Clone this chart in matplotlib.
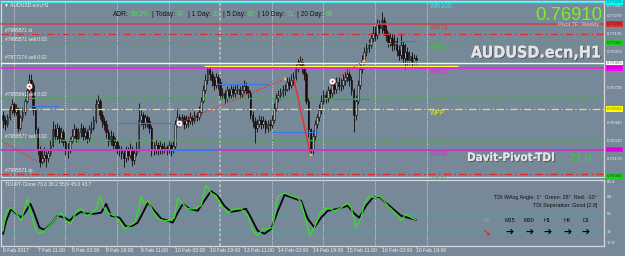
import matplotlib
matplotlib.use("Agg")
import numpy as np
import matplotlib.pyplot as plt
from matplotlib.transforms import blended_transform_factory
import matplotlib.patheffects as pe

plt.rcParams['font.family'] = ['Liberation Sans', 'DejaVu Sans']

W, H = 625, 256
BG = '#778899'

# AUDUSD.ecn H1 bars, 6 Feb 2017 19:00 .. 16 Feb 2017 19:00
first_open = 0.7651
close = [.7647, .7644, .7649, .7655, .7659, .7653, .7656, .7641, .7649, .7653,
         .7662, .7670, .7678, .7674, .7655, .7640, .7624, .7615, .7618, .7620,
         .7618, .7622, .7628, .7640, .7635, .7641, .7633, .7638, .7630, .7624,
         .7625, .7631, .7635, .7640, .7633, .7638, .7641, .7635, .7638, .7633,
         .7640, .7641, .7647, .7659, .7662, .7651, .7646, .7644, .7638, .7631,
         .7635, .7628, .7630, .7625, .7624, .7622, .7618, .7624, .7620, .7625,
         .7616, .7622, .7625, .7647, .7651, .7644, .7649, .7646, .7641, .7624,
         .7625, .7628, .7624, .7627, .7625, .7626, .7624, .7628, .7625, .7627,
         .7644, .7649, .7646, .7649, .7644, .7647, .7646, .7649, .7647, .7651,
         .7649, .7653, .7662, .7670, .7678, .7686, .7682, .7678, .7674, .7680,
         .7676, .7666, .7668, .7664, .7670, .7666, .7671, .7668, .7670, .7671,
         .7667, .7670, .7673, .7670, .7668, .7651, .7646, .7641, .7644, .7647,
         .7644, .7646, .7641, .7644, .7643, .7647, .7656, .7664, .7666, .7668,
         .7670, .7671, .7676, .7674, .7678, .7680, .7686, .7690, .7692, .7687,
         .7682, .7662, .7640, .7624, .7635, .7644, .7649, .7655, .7662, .7666,
         .7664, .7670, .7668, .7674, .7671, .7676, .7673, .7674, .7678, .7680,
         .7682, .7678, .7670, .7651, .7662, .7674, .7686, .7693, .7699, .7702,
         .7705, .7710, .7714, .7712, .7721, .7718, .7724, .7716, .7712, .7707,
         .7710, .7705, .7708, .7701, .7697, .7705, .7695, .7699, .7693, .7696,
         .7692, .7695, .7693]
high = [.7654, .7650, .7652, .7658, .7663, .7661, .7659, .7657, .7651, .7657,
        .7665, .7674, .7682, .7682, .7676, .7657, .7642, .7627, .7624, .7626,
        .7623, .7625, .7632, .7646, .7644, .7645, .7643, .7642, .7640, .7632,
        .7629, .7634, .7640, .7644, .7642, .7641, .7645, .7643, .7642, .7640,
        .7643, .7646, .7650, .7663, .7666, .7664, .7654, .7649, .7647, .7640,
        .7639, .7638, .7634, .7632, .7628, .7627, .7624, .7627, .7626, .7629,
        .7627, .7625, .7630, .7660, .7655, .7653, .7652, .7651, .7649, .7643,
        .7630, .7632, .7630, .7631, .7629, .7630, .7628, .7631, .7630, .7631,
        .7647, .7656, .7652, .7652, .7651, .7651, .7650, .7653, .7651, .7654,
        .7653, .7658, .7665, .7674, .7682, .7688, .7688, .7685, .7681, .7683,
        .7682, .7679, .7672, .7670, .7673, .7672, .7674, .7673, .7674, .7675,
        .7673, .7674, .7678, .7676, .7673, .7670, .7654, .7649, .7648, .7651,
        .7650, .7650, .7648, .7647, .7648, .7651, .7660, .7668, .7670, .7672,
        .7674, .7675, .7680, .7680, .7682, .7684, .7690, .7694, .7696, .7695,
        .7689, .7684, .7664, .7641, .7639, .7647, .7652, .7659, .7666, .7670,
        .7669, .7673, .7672, .7679, .7677, .7680, .7680, .7679, .7682, .7684,
        .7686, .7685, .7681, .7672, .7666, .7678, .7690, .7697, .7703, .7706,
        .7709, .7714, .7719, .7719, .7725, .7724, .7730, .7726, .7720, .7715,
        .7714, .7713, .7713, .7711, .7705, .7714, .7708, .7706, .7703, .7700,
        .7699, .7698, .7697]
low = [.7641, .7639, .7642, .7647, .7652, .7650, .7651, .7638, .7639, .7646,
       .7651, .7660, .7668, .7669, .7651, .7634, .7620, .7611, .7613, .7615,
       .7611, .7615, .7619, .7626, .7631, .7632, .7629, .7630, .7627, .7620,
       .7618, .7622, .7629, .7633, .7630, .7631, .7634, .7632, .7632, .7629,
       .7631, .7637, .7639, .7645, .7656, .7648, .7642, .7639, .7633, .7627,
       .7628, .7625, .7624, .7621, .7619, .7617, .7611, .7615, .7616, .7618,
       .7612, .7613, .7619, .7623, .7643, .7640, .7641, .7642, .7637, .7619,
       .7620, .7621, .7620, .7621, .7621, .7622, .7620, .7622, .7619, .7622,
       .7625, .7642, .7642, .7644, .7640, .7641, .7642, .7644, .7643, .7645,
       .7646, .7647, .7651, .7660, .7668, .7675, .7678, .7673, .7670, .7672,
       .7671, .7663, .7663, .7660, .7662, .7663, .7664, .7665, .7665, .7667,
       .7664, .7665, .7668, .7667, .7664, .7648, .7642, .7629, .7638, .7642,
       .7640, .7641, .7637, .7638, .7639, .7641, .7645, .7654, .7661, .7663,
       .7665, .7666, .7669, .7670, .7672, .7674, .7678, .7684, .7688, .7683,
       .7678, .7659, .7634, .7619, .7621, .7632, .7641, .7646, .7652, .7659,
       .7660, .7661, .7664, .7665, .7667, .7668, .7670, .7669, .7671, .7674,
       .7676, .7673, .7666, .7638, .7647, .7659, .7671, .7683, .7690, .7696,
       .7699, .7702, .7707, .7708, .7709, .7713, .7714, .7712, .7708, .7703,
       .7704, .7700, .7701, .7696, .7692, .7694, .7691, .7686, .7689, .7690,
       .7687, .7690, .7690]

x_labels = ['6 Feb 2017', '7 Feb 11:00', '8 Feb 03:00', '8 Feb 19:00', '9 Feb 11:00',
            '10 Feb 03:00', '10 Feb 19:00', '13 Feb 11:00', '14 Feb 03:00',
            '14 Feb 19:00', '15 Feb 11:00', '16 Feb 03:00', '16 Feb 19:00']
label_step = 16
day_starts = [5, 29, 53, 77, 125, 149, 173, 197]
week_start = 101

# weekly pivots
piv_names = ['WR100', 'WR78', 'WR61', 'WR38', 'WPP', 'WS38', 'WS61']
piv_prices = [0.77378, 0.77208, 0.77062, 0.76870, 0.76555, 0.76243, 0.76040]
piv_colors = ['#3ee6ee', '#c84848', '#3cc23c', '#f020f0', '#e6e63c', '#c43cc4', '#3cc23c']

# open order lines
ord_names = ['#7995571 sl', '#7995571 sell 0.03', '#7977274 sell 0.02',
             '#7955891 sell 0.02', '#7956577 sell 0.02', '#7995571 tp']
ord_prices = [0.77134, 0.77062, 0.76924, 0.76639, 0.76320, 0.76055]
ord_colors = ['#d83030', '#3cb43c', '#4caa4c', '#3cb43c', '#3cb43c', '#e02828']

white_level = 0.76905
yellow_level, yellow_from, yellow_to = 0.76882, 93.5, 211.6

price_ticks = [0.77350, 0.77270, 0.77135, 0.76995, 0.76720, 0.76445, 0.76310, 0.76170]
tag_prices = [0.77378, 0.77208, 0.77062, 0.76905, 0.76870, 0.76555, 0.76243, 0.76040]
tag_colors = ['#00ffff', '#d83030', '#22cc22', '#ffffff', '#ff00ff', '#ffff00', '#ff00ff', '#22cc22']
tag_text = ['#006060', '#701010', '#0a500a', '#707070', '#800080', '#707000', '#800080', '#0a500a']

# trend segments from the indicator
blue_y = [0.76578, 0.76447, 0.76240, 0.76747, 0.76380, 0.76632, 0.77078]
blue_x0 = [12, 53.5, 78, 100, 124.7, 153.5, 184]
blue_x1 = [26, 78, 99, 123, 147, 170, 192]

dot_x0 = [0, 12.5, 81.9, 153]
dot_x1 = [16, 13.2, 131, 167.8]
dot_y0 = [0.7630, 0.7670, 0.76447, 0.76770]
dot_y1 = [0.7615, 0.7662, 0.76786, 0.76924]
solid_x = [135.3, 142.8]
solid_y = [0.76778, 0.76216]
ring_x = [12.1, 81.9, 153]
ring_y = [0.76731, 0.76447, 0.76770]
orange_x = [131, 143.3, 167.8]
orange_y = [0.76786, 0.76201, 0.76924]

# TDI sub window
green_idx = [0, 1.4, 3.7, 6, 8.4, 11.2, 13, 15.3, 16.9, 19.2, 22.3, 24.7, 27, 29.3, 31.6,
             34, 36.3, 38.6, 40.9, 43.3, 45.1, 47.1, 49.5, 51.8, 54.1, 56.4, 58.8, 61.1,
             62.6, 64.2, 65.7, 67.3, 69.6, 71.9, 75, 77.4, 79.7, 81.2, 83.6, 85.9, 89, 92.1,
             94.4, 96.7, 99.1, 101.4, 104.5, 107.6, 110.7, 113.8, 116.1, 118.4, 120.8, 123.1,
             125.4, 127.8, 130.9, 134, 137.1, 138.6, 140.9, 142.5, 144.8, 147.9, 151, 154.1,
             157.2, 160, 161.9, 164.2, 166.5, 168, 170.4, 172.7, 175, 177.3, 178.9, 181.3,
             183.6, 185.1, 187.4, 189.8, 192]
green_val = [33, 53, 56.7, 51.6, 43, 66, 50.6, 33, 30, 33, 40, 46.5, 51.6, 43, 40,
             53, 55.7, 48.5, 50.6, 55.7, 68, 55.7, 50.6, 48.5, 43.4, 35, 38.3, 41.4,
             50.6, 68, 60.8, 63.9, 53.6, 45.5, 43.4, 43.4, 46.5, 67, 60.8, 55.7, 55.7, 58.8,
             80.3, 72, 69, 58.8, 51.6, 55.7, 55.7, 48.5, 33, 28, 35, 35,
             36.3, 69, 72, 69, 67, 62, 43.4, 28, 36.3, 53.6, 56.7, 53.6,
             56.7, 61.8, 56.7, 36.3, 46.5, 60.8, 69, 67, 69, 63.9, 58.8, 53.6,
             48.5, 43.4, 50.6, 46.5, 44.4]
black_idx = [0, 1.4, 3.7, 6, 8.4, 10.7, 12.7, 14.6, 16.9, 19.2, 22.3, 25.4, 28.5, 30.9, 33.2,
             36.3, 38.6, 42.5, 45.6, 47.9, 50.2, 54.1, 57.2, 60.3, 62.6, 65, 67.3, 70.4, 73.5,
             76.6, 78.9, 81.2, 83.6, 86.7, 90.5, 93.6, 96.7, 99.8, 102.9, 106, 109.1, 113,
             115.3, 118.4, 121.6, 124.7, 127.8, 130.9, 134.7, 138.6, 141.7, 144.8, 147.9, 151,
             155.7, 160.3, 163.4, 165.7, 168.8, 171.9, 175, 178.1, 181.3, 185.1, 188.2, 192]
black_val = [30, 43, 55.7, 50.6, 46.5, 53.6, 60.8, 50.6, 36.3, 34, 40, 48.5, 46.5, 43.4, 48.5,
             52.6, 50.6, 50.6, 51.6, 60.8, 48.5, 46.5, 37.3, 38.3, 41.4, 51.6, 61.8, 53.6, 45.5,
             43.4, 41.4, 51.6, 60.8, 55.7, 53.6, 63.9, 74, 69, 58.8, 52.6, 53.6, 55.7,
             46.5, 33, 30, 35, 53.6, 70, 67, 63.9, 45.5, 36.3, 46.5, 53.6,
             55.7, 58.8, 50.6, 46.5, 58.8, 67, 68, 61.8, 55.7, 48.5, 46.5, 44.4]
tdi_levels = [68, 50, 32]
tdi_ticks = [85.4, 68, 50, 32, 17.8]

adr_names = ['ADR:', '| Today:', '| 1 Day:', '| 5 Day:', '| 10 Day:', '| 20 Day:']
adr_values = ['60.2%', '47', '82', '67', '71', '66']
tf_names = ['M5', 'M15', 'M30', 'H1', 'H4', 'D1']
tf_arrows = ['\u2798', '\u2794', '\u2794', '\u2794', '\u2794', '\u2794']

fig = plt.figure(figsize=(W / 100, H / 100), dpi=100, facecolor=BG)
ax = fig.add_axes([1 / W, 1 - 177 / H, 603 / W, 176 / H], facecolor=BG)
sub = fig.add_axes([1 / W, 1 - 245.5 / H, 603 / W, 65.5 / H], facecolor=BG, sharex=ax)
renderer = fig.canvas.get_renderer()


def px(x, y):
    return x / W, 1 - y / H


def fit_width(t, width):
    # shrink or grow a text so it spans the given pixel width
    w = t.get_window_extent(renderer).width
    t.set_fontsize(t.get_fontsize() * width / w)


for a in (ax, sub):
    for s in a.spines.values():
        s.set_color('#d4d8dc')
        s.set_linewidth(0.9)
    a.set_yticks([])
    for d in day_starts:
        a.axvline(d, color='#eef0f2', ls=(0, (1, 1.6)), lw=0.6, zorder=1)
    a.axvline(week_start, color='#c0c4c8', ls=(0, (2, 1.2)), lw=1.1, zorder=1)

ax.set_xlim(-1, 279.5)
ax.set_ylim(0.76032, 0.77385)
sub.set_ylim(17.8, 85.4)

# candles
n = len(close)
idx = np.arange(n)
c = np.array(close)
o = np.r_[first_open, c[:-1]]
hi = np.maximum(np.array(high), np.maximum(o, c))
lo = np.minimum(np.array(low), np.minimum(o, c))
up = c >= o
ax.vlines(idx, lo, hi, color='#0c0c0c', lw=0.6, zorder=2)
ax.bar(idx[up], (c - o)[up], bottom=o[up], width=0.8, color='#a6abb0',
       edgecolor='#0c0c0c', lw=0.4, zorder=2.5)
ax.bar(idx[~up], (c - o)[~up], bottom=o[~up], width=0.8, color='#2e0606',
       edgecolor='#0c0c0c', lw=0.4, zorder=2.5)

# level lines
ax.axhline(piv_prices[0], color=piv_colors[0], lw=1.0, zorder=3)
ax.axhline(piv_prices[1], color=piv_colors[1], lw=1.2, zorder=3)
ax.axhline(white_level, color='#f4f4f4', lw=1.0, zorder=3)
ax.hlines(yellow_level, yellow_from, yellow_to, color='#ffff40', lw=1.0, zorder=3)
ax.axhline(piv_prices[3], color=piv_colors[3], lw=1.2, zorder=3)
ax.axhline(piv_prices[4], color=piv_colors[4], ls=(0, (6, 2, 1, 2)), lw=0.9, zorder=3)
ax.axhline(piv_prices[5], color=piv_colors[5], lw=1.4, zorder=3)
ord_styles = [(0, (6, 2.5, 1.2, 2.5)), (0, (4, 3)), (0, (3, 3)), (0, (3, 3)), (0, (3, 3)),
              (0, (6, 2.5, 1.2, 2.5))]
for p, col, ls in zip(ord_prices, ord_colors, ord_styles):
    ax.axhline(p, color=col, ls=ls, lw=0.9, zorder=3)

ax.hlines(blue_y, blue_x0, blue_x1, color='#3a78e0', lw=0.8, zorder=3)
for x0, x1, y0, y1 in zip(dot_x0, dot_x1, dot_y0, dot_y1):
    ax.plot([x0, x1], [y0, y1], color='#ff2424', ls=(0, (1, 1.3)), lw=0.9, zorder=4)
ax.plot(solid_x, solid_y, color='#ff2020', lw=0.9, zorder=4)
ax.plot(ring_x, ring_y, 'o', ms=3.2, mfc='white', mec='white', zorder=5)
ax.plot(ring_x, ring_y, 'o', ms=1.4, mfc='#e02020', mec='none', zorder=6)
ax.plot(orange_x, orange_y, 's', ms=2.0, mfc='#ffa020', mec='#ffe080', mew=0.3, zorder=5)

# level labels
for name, p, col in zip(piv_names, piv_prices, piv_colors):
    ax.annotate(name, (198.5, p), xytext=(0, -1.0), textcoords='offset points',
                va='top', ha='left', fontsize=4.9, color=col, zorder=6)
for name, p in zip(ord_names, ord_prices):
    ax.annotate(name, (0.9, p), xytext=(0, 0.6), textcoords='offset points',
                va='bottom', ha='left', fontsize=3.5, color='#f2f2f2', zorder=6)

# right price scale
tr = blended_transform_factory(ax.transAxes, ax.transData)
for p in price_ticks:
    ax.text(1.004, p, '%.5f' % p, transform=tr, fontsize=3.2, color='#eceef0',
            va='center', ha='left', clip_on=False)
for p, fc, tc in zip(tag_prices, tag_colors, tag_text):
    ax.text(1.004, p, '%.5f' % p, transform=tr, fontsize=3.2, color=tc, va='center',
            ha='left', clip_on=False, zorder=7,
            bbox=dict(boxstyle='square,pad=0.2', fc=fc, ec='none'))

# TDI
for lv in tdi_levels:
    sub.axhline(lv, color='#44a8a0', ls=(0, (3, 2)), lw=0.6, zorder=1)
sub.plot(black_idx, black_val, color='#060606', lw=1.3, zorder=3)
sub.plot(green_idx, green_val, color='#38e020', lw=0.9, zorder=4)
trs = blended_transform_factory(sub.transAxes, sub.transData)
for v in tdi_ticks:
    va = 'top' if v == tdi_ticks[0] else ('bottom' if v == tdi_ticks[-1] else 'center')
    sub.text(1.004, v, ('%g' % v), transform=trs, fontsize=3.2, color='#eceef0',
             va=va, ha='left', clip_on=False)

ax.tick_params(axis='x', bottom=False, labelbottom=False)
ticks = [i * label_step for i in range(len(x_labels))]
sub.set_xticks(ticks)
sub.set_xticklabels(x_labels)
sub.tick_params(axis='x', length=1.6, width=0.5, color='#d4d8dc', pad=0.4,
                labelsize=3.7, labelcolor='#f2f4f6')
for t in sub.get_xticklabels():
    t.set_ha('left')

# texts
fig.text(*px(4, 4.5), '\u25bc AUDUSD.ecn,H1', fontsize=3.6, color='#f2f2f2', va='center')
fig.text(*px(5, 184), 'TDI-RT-Clone 73.6 38.2 55.9 45.0 43.7', fontsize=3.6,
         color='#f2f2f2', va='center')

xpos = 113
for name, val in zip(adr_names, adr_values):
    t = fig.text(*px(xpos, 15), name, fontsize=4.8, color='#141414', va='center')
    xpos += t.get_window_extent(renderer).width + 1.5
    t = fig.text(*px(xpos, 15), val, fontsize=4.8, color='#3ee83e', va='center')
    xpos += t.get_window_extent(renderer).width + 3.5

fig.text(*px(535, 15), '0.76910', fontsize=13.3, color='#80f020', va='center')
fig.text(*px(558, 24.5), 'Pivot TF: Weekly', fontsize=4.0, color='#d4d4d4', va='center')
shadow = [pe.withSimplePatchShadow(offset=(0.8, -0.8), shadow_rgbFace='#505860', alpha=0.9),
          pe.Normal()]
t = fig.text(*px(471, 53), 'AUDUSD.ecn,H1', fontsize=15, fontweight='bold',
             family='DejaVu Sans', fontstretch='condensed', color='#e4e4e4',
             va='center', path_effects=shadow)
fit_width(t, 130)
t = fig.text(*px(467, 157.5), 'Davit-Pivot-TDI', fontsize=10.8, fontweight='bold',
             family='DejaVu Sans', fontstretch='condensed', color='#e4e4e4',
             va='center', path_effects=shadow)
fit_width(t, 88)
fig.text(*px(567, 159), '-71.0', fontsize=7.9, color='#36d236', va='center')

fig.text(*px(597, 197.5), 'TDI WAvg Angle: 1\u00b0  Green: 28\u00b0  Red: -10\u00b0',
         fontsize=3.9, color='#101010', va='center', ha='right')
fig.text(*px(597, 205.5), 'TDI Seperation: Good [2.8]', fontsize=3.9, color='#101010',
         va='center', ha='right')
tf_x = [486.5, 510, 529, 547.5, 567, 586]
for k, (name, arr) in enumerate(zip(tf_names, tf_arrows)):
    col = '#9aa0a6' if k == 0 else '#0c0c0c'
    fig.text(*px(tf_x[k], 221), name, fontsize=3.9, color=col, va='center', ha='center')
    fig.text(*px(tf_x[k], 232.5), arr, fontsize=7, color='#ff1010' if k == 0 else '#000000',
             va='center', ha='center', family=['DejaVu Sans'], fontweight='bold')

fig.savefig('out.png', dpi=100, facecolor=BG)
